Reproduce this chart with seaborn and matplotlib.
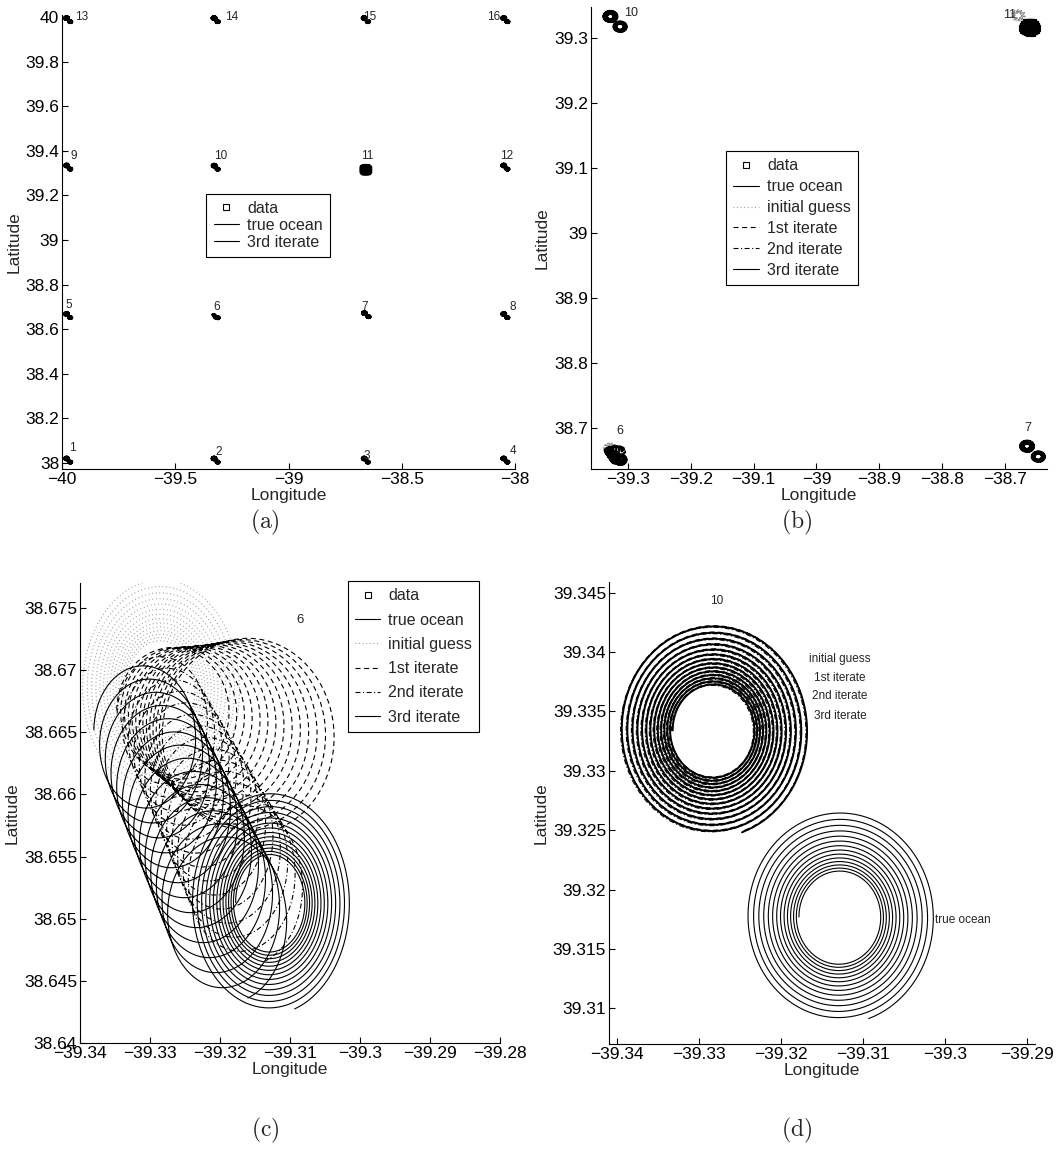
import numpy as np
import matplotlib
matplotlib.use('Agg')
import matplotlib.pyplot as plt
from matplotlib.lines import Line2D
from matplotlib import font_manager
import seaborn as sns

# ---- drifters 1..16: initial guess centres and true-ocean centres (deg) ----
guess_lon = [-39.980, -39.329, -38.666, -38.050,
             -39.980, -39.3286, -38.665, -38.050,
             -39.980, -39.3284, -38.679, -38.050,
             -39.980, -39.329, -38.666, -38.050]
guess_lat = [38.020, 38.020, 38.020, 38.020,
             38.668, 38.6685, 38.672, 38.668,
             39.334, 39.3334, 39.335, 39.334,
             39.995, 39.995, 39.995, 39.995]
true_lon = [-39.964, -39.313, -38.650, -38.034,
            -39.964, -39.3129, -38.647, -38.034,
            -39.964, -39.3129, -38.661, -38.034,
            -39.964, -39.313, -38.650, -38.034]
true_lat = [38.004, 38.004, 38.004, 38.004,
            38.652, 38.6513, 38.656, 38.652,
            39.318, 39.3177, 39.317, 39.318,
            39.979, 39.979, 39.979, 39.979]

# loop shape shared by the tracks: lat radius inner/outer, number of turns
loop_r = [0.0038, 0.009]
loop_turns = 13.7

# iterates that did not move stay on the guess (tiny spread between them)
iter_names = ['1st iterate', '2nd iterate', '3rd iterate']
iter_dlon = [0.00006, -0.00005, 0.00009]
iter_dlat = [0.00007, -0.00006, 0.00001]

# drifter 6: iterate tracks drift away from the guess (start, end)
it6_lon = [(-39.3270, -39.3157), (-39.3285, -39.3160), (-39.3310, -39.3186)]
it6_lat = [(38.6668, 38.6647), (38.6665, 38.6525), (38.6652, 38.6497)]
it6_r = [(0.0050, 0.0079), (0.0048, 0.0062), (0.0054, 0.0064)]
it6_stretch = [1.55, 1.29, 1.30]

data_drifter = 10      # index of drifter 11 (observed)

# text labels for each panel
a_lab = [str(i) for i in range(1, 17)]
a_lab_lon = [-39.956, -39.307, -38.653, -38.009, -39.972, -39.316, -38.662, -38.009,
             -39.947, -39.298, -38.653, -38.035, -39.912, -39.249, -38.640, -38.093]
a_lab_lat = [38.067, 38.049, 38.031, 38.054, 38.709, 38.700, 38.700, 38.700,
             39.377, 39.377, 39.377, 39.377, 40.000, 40.000, 40.000, 40.000]
b_lab = ['6', '7', '10', '11']
b_lab_lon = [-39.313, -38.663, -39.295, -38.693]
b_lab_lat = [38.695, 38.700, 39.339, 39.335]
c_lab = ['6']
c_lab_lon = [-39.3086]
c_lab_lat = [38.674]
d_lab = ['10', 'initial guess', '1st iterate', '2nd iterate', '3rd iterate', 'true ocean']
d_lab_lon = [-39.3279, -39.3128, -39.3128, -39.3128, -39.3128, -39.2978]
d_lab_lat = [39.3443, 39.3394, 39.3378, 39.3363, 39.3346, 39.3174]

# axes ticks / limits
a_xt = [-40, -39.5, -39, -38.5, -38]
a_yt = [38, 38.2, 38.4, 38.6, 38.8, 39, 39.2, 39.4, 39.6, 39.8, 40]
b_xt = [-39.3, -39.2, -39.1, -39, -38.9, -38.8, -38.7]
b_yt = [38.7, 38.8, 38.9, 39, 39.1, 39.2, 39.3]
c_xt = [-39.34, -39.33, -39.32, -39.31, -39.3, -39.29, -39.28]
c_yt = [38.64, 38.645, 38.65, 38.655, 38.66, 38.665, 38.67, 38.675]
d_xt = [-39.34, -39.33, -39.32, -39.31, -39.3, -39.29]
d_yt = [39.31, 39.315, 39.32, 39.325, 39.33, 39.335, 39.34, 39.345]

sns.set_style('ticks')
names = {f.name for f in font_manager.fontManager.ttflist}
narrow = 'Liberation Sans Narrow' if 'Liberation Sans Narrow' in names else 'Liberation Sans'
big = 14 if narrow == 'Liberation Sans Narrow' else 12.5
leg_size = 12.5 if narrow == 'Liberation Sans Narrow' else 11.5
plt.rcParams['font.family'] = [narrow, 'DejaVu Sans']
plt.rcParams['mathtext.fontset'] = 'cm'
plt.rcParams['lines.scale_dashes'] = False
plt.rcParams['axes.edgecolor'] = 'k'
plt.rcParams['xtick.color'] = 'k'
plt.rcParams['ytick.color'] = 'k'

styles = {
    'true ocean': dict(color='k', ls='-'),
    'initial guess': dict(color='0.55', ls=(0, (0.6, 2.0))),
    '1st iterate': dict(color='k', ls=(0, (3.6, 2.6))),
    '2nd iterate': dict(color='k', ls=(0, (3.6, 1.8, 0.8, 1.8))),
    '3rd iterate': dict(color='k', ls='-'),
}


def loop(lon0, lat0, lon1, lat1, r0, r1, k, n=1400):
    t = np.linspace(0, 1, n)
    th = np.pi - 2 * np.pi * loop_turns * t
    r = r0 * (r1 / r0) ** t
    x = lon0 + (lon1 - lon0) * t + k * r * np.cos(th)
    y = lat0 + (lat1 - lat0) * t + r * np.sin(th)
    return x, y


def stretch(lat):
    return 1 / np.cos(np.radians(lat))


def tracks(i):
    out = {}
    k = stretch(true_lat[i])
    out['true ocean'] = loop(true_lon[i], true_lat[i], true_lon[i], true_lat[i],
                             loop_r[0], loop_r[1], k)
    out['initial guess'] = loop(guess_lon[i], guess_lat[i], guess_lon[i], guess_lat[i],
                                loop_r[0], loop_r[1], k)
    for j, nm in enumerate(iter_names):
        if i == 5:
            out[nm] = loop(it6_lon[j][0], it6_lat[j][0], it6_lon[j][1], it6_lat[j][1],
                           it6_r[j][0], it6_r[j][1], it6_stretch[j])
        elif i == data_drifter:
            out[nm] = out['true ocean']
        else:
            cx = guess_lon[i] + iter_dlon[j]
            cy = guess_lat[i] + iter_dlat[j]
            out[nm] = loop(cx, cy, cx, cy, loop_r[0], loop_r[1], k)
    return out


all_tracks = [tracks(i) for i in range(16)]
dx, dy = all_tracks[data_drifter]['true ocean']
data_lon, data_lat = dx[::6], dy[::6]


def fmt(v, pos=None):
    return ('%g' % v).replace('-', '\u2212')


def panel(rect, xlim, ylim, xt, yt, show, labels, lab_size, lab_family):
    ax = fig.add_axes(rect)
    for i in range(16):
        for nm in show:
            x, y = all_tracks[i][nm]
            inside = (x > xlim[0]) & (x < xlim[1]) & (y > ylim[0]) & (y < ylim[1])
            if not inside.any():
                continue
            st = styles[nm]
            lw = 0.8
            # unchanged iterates pile up on each other -> heavier line
            if nm == '3rd iterate' and i not in (5, data_drifter):
                lw = 1.4
            sns.lineplot(x=x, y=y, sort=False, estimator=None, ax=ax, color=st['color'],
                         linestyle=st['ls'], lw=lw, legend=False)
    inside = ((np.array(data_lon) > xlim[0]) & (np.array(data_lon) < xlim[1]) &
              (np.array(data_lat) > ylim[0]) & (np.array(data_lat) < ylim[1]))
    if inside.any():
        sns.lineplot(x=data_lon, y=data_lat, sort=False, estimator=None, ax=ax,
                     marker='s', linestyle='none', ms=4.5, mfc='none', mec='k',
                     mew=0.8, color='k', legend=False)
    for t, lx, ly in zip(*labels):
        ax.text(lx, ly, t, ha='center', va='center', fontsize=lab_size,
                family=lab_family)
    ax.set_xlim(xlim)
    ax.set_ylim(ylim)
    ax.set_xticks(xt)
    ax.set_yticks(yt)
    ax.xaxis.set_major_formatter(plt.FuncFormatter(fmt))
    ax.yaxis.set_major_formatter(plt.FuncFormatter(fmt))
    ax.tick_params(direction='in', length=4, width=0.8, labelsize=big, pad=2)
    sns.despine(ax=ax)
    for s in ['left', 'bottom']:
        ax.spines[s].set_linewidth(0.8)
    ax.set_xlabel('Longitude', fontsize=big, labelpad=1)
    ax.set_ylabel('Latitude', fontsize=big, labelpad=3)
    return ax


def add_legend(ax, entries, anchor, spacing):
    hs = []
    for nm in entries:
        if nm == 'data':
            hs.append(Line2D([], [], marker='s', ls='none', ms=4, mfc='none',
                             mec='k', mew=0.8))
        else:
            hs.append(Line2D([], [], color=styles[nm]['color'],
                             ls=styles[nm]['ls'], lw=0.8))
    lg = ax.legend(hs, entries, loc='center', bbox_to_anchor=anchor,
                   prop=dict(family=narrow, size=leg_size), fancybox=False,
                   edgecolor='k', framealpha=1, borderpad=0.45, handlelength=1.6,
                   handletextpad=0.5, labelspacing=spacing, borderaxespad=0)
    lg.get_frame().set_linewidth(0.8)


fig = plt.figure(figsize=(10.62, 11.54), dpi=100)
W, H = 1062, 1154

ax_a = panel([62 / W, (H - 469) / H, 453 / W, 454 / H], (-40, -38), (37.973, 40.009),
             a_xt, a_yt, ['true ocean', '3rd iterate'], (a_lab, a_lab_lon, a_lab_lat),
             8.5, 'Liberation Sans')
add_legend(ax_a, ['data', 'true ocean', '3rd iterate'], (0.455, 0.537), 0.125)

full = ['initial guess', '1st iterate', '2nd iterate', 'true ocean', '3rd iterate']
legend_full = ['data', 'true ocean', 'initial guess', '1st iterate', '2nd iterate',
               '3rd iterate']

ax_b = panel([591 / W, (H - 469) / H, 456 / W, 462 / H], (-39.359, -38.633),
             (38.637, 39.348), b_xt, b_yt, full, (b_lab, b_lab_lon, b_lab_lat),
             9, 'Liberation Sans')
add_legend(ax_b, legend_full, (0.441, 0.543), 0.37)

ax_c = panel([80 / W, (H - 1043) / H, 420 / W, 460 / H], (-39.34, -39.28),
             (38.64, 38.677), c_xt, c_yt, full, (c_lab, c_lab_lon, c_lab_lat),
             9.5, 'Liberation Sans')
add_legend(ax_c, legend_full, (0.794, 0.840), 0.58)

ax_d = panel([609 / W, (H - 1044) / H, 426 / W, 462 / H], (-39.341, -39.289),
             (39.307, 39.3459), d_xt, d_yt, full, (d_lab, d_lab_lon, d_lab_lat),
             8.5, narrow)

for t, x, y in [('a', 265, 522), ('b', 797, 522), ('c', 265, 1130), ('d', 797, 1130)]:
    fig.text(x / W, 1 - y / H, r'$(\mathrm{%s})$' % t, ha='center', va='center',
             fontsize=17)

fig.savefig('out.png', dpi=100)
